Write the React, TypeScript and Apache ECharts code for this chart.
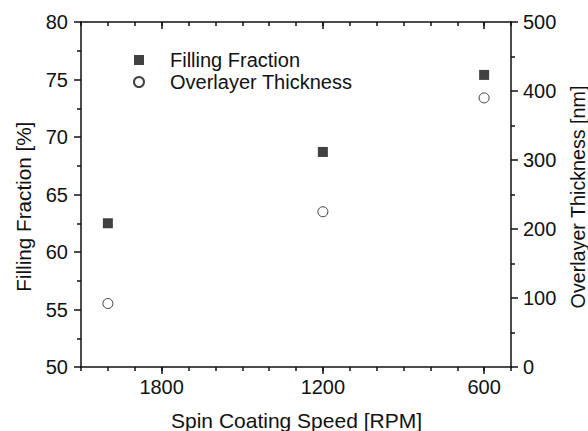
import React, { useEffect, useRef } from "react";
import * as echarts from "echarts";

const speeds = [2000, 1200, 600];
const fillingFraction = [62.5, 68.7, 75.4];
const overlayerThickness = [92, 225, 390];
const xMajorTicks = [600, 1200, 1800];

const FONT = "Liberation Sans";
const INK = "#111111";

export default function App() {
  const ref = useRef<HTMLDivElement>(null);
  useEffect(() => {
    if (!ref.current) return;
    const chart = echarts.init(ref.current, undefined, { renderer: "svg" });
    const xBase = {
      type: "value",
      min: 500,
      max: 2100,
      inverse: true,
      splitLine: { show: false },
    };
    const lineStyle = { color: INK, width: 1.5 };
    const tickLabel = { fontFamily: FONT, fontSize: 20, color: INK };
    chart.setOption({
      animation: false,
      textStyle: { fontFamily: FONT, color: INK },
      grid: { left: 81, right: 77, top: 22, bottom: 64, containLabel: false },
      legend: {
        orient: "vertical",
        left: 128,
        top: 45,
        itemWidth: 10,
        itemHeight: 10,
        itemGap: 2,
        textStyle: { fontFamily: FONT, fontSize: 20, color: INK, lineHeight: 20, padding: [0, 0, 0, 21] },
        data: ["Filling Fraction", "Overlayer Thickness"],
      },
      graphic: [
        {
          type: "text",
          x: 296.5,
          y: 420,
          style: {
            text: "Spin Coating Speed [RPM]",
            font: `21px "${FONT}"`,
            fill: INK,
            align: "center",
            verticalAlign: "middle",
          },
        },
        {
          type: "text",
          x: 23,
          y: 206.7,
          rotation: Math.PI / 2,
          style: {
            text: "Filling Fraction [%]",
            font: `20.7px "${FONT}"`,
            fill: INK,
            align: "center",
            verticalAlign: "middle",
          },
        },
        {
          type: "text",
          x: 578,
          y: 197,
          rotation: Math.PI / 2,
          style: {
            text: "Overlayer Thickness [nm]",
            font: `19.7px "${FONT}"`,
            fill: INK,
            align: "center",
            verticalAlign: "middle",
          },
        },
      ],
      xAxis: [
        {
          ...xBase,
          position: "bottom",
          axisLine: { show: true, lineStyle },
          axisTick: { show: true, customValues: xMajorTicks, length: 7, inside: false, lineStyle },
          axisLabel: {
            show: true,
            customValues: xMajorTicks,
            ...tickLabel,
            margin: 10,
            formatter: (v: number) => String(v),
          },
        },
        {
          ...xBase,
          position: "bottom",
          interval: 100,
          axisLine: { show: false },
          axisTick: { show: true, length: 4, inside: false, lineStyle },
          axisLabel: { show: false },
        },
        {
          ...xBase,
          position: "top",
          axisLine: { show: true, lineStyle },
          axisTick: { show: true, customValues: xMajorTicks, length: 7, inside: true, lineStyle },
          axisLabel: { show: false },
        },
        {
          ...xBase,
          position: "top",
          interval: 100,
          axisLine: { show: false },
          axisTick: { show: true, length: 4, inside: true, lineStyle },
          axisLabel: { show: false },
        },
      ],
      yAxis: [
        {
          type: "value",
          position: "left",
          min: 50,
          max: 80,
          interval: 5,
          axisLine: { show: true, lineStyle },
          axisTick: { show: true, length: 7, inside: false, lineStyle },
          minorTick: { show: true, splitNumber: 2, length: 4, lineStyle },
          splitLine: { show: false },
          axisLabel: { ...tickLabel, margin: 13 },
        },
        {
          type: "value",
          position: "right",
          min: 0,
          max: 500,
          interval: 100,
          axisLine: { show: true, lineStyle },
          axisTick: { show: true, length: 7, inside: false, lineStyle },
          minorTick: { show: true, splitNumber: 2, length: 4, lineStyle },
          splitLine: { show: false },
          axisLabel: { ...tickLabel, margin: 12 },
        },
      ],
      series: [
        {
          name: "Filling Fraction",
          type: "scatter",
          xAxisIndex: 0,
          yAxisIndex: 0,
          symbol: "rect",
          symbolSize: 10,
          itemStyle: { color: INK },
          data: speeds.map((s, i) => [s, fillingFraction[i]]),
        },
        {
          name: "Overlayer Thickness",
          type: "scatter",
          xAxisIndex: 0,
          yAxisIndex: 1,
          symbol: "circle",
          symbolSize: 10,
          itemStyle: { color: "#ffffff", borderColor: INK, borderWidth: 1 },
          data: speeds.map((s, i) => [s, overlayerThickness[i]]),
        },
      ],
    });
    return () => chart.dispose();
  }, []);
  return <div ref={ref} style={{ width: 588, height: 431, position: "absolute", left: 0, top: 0 }} />;
}
